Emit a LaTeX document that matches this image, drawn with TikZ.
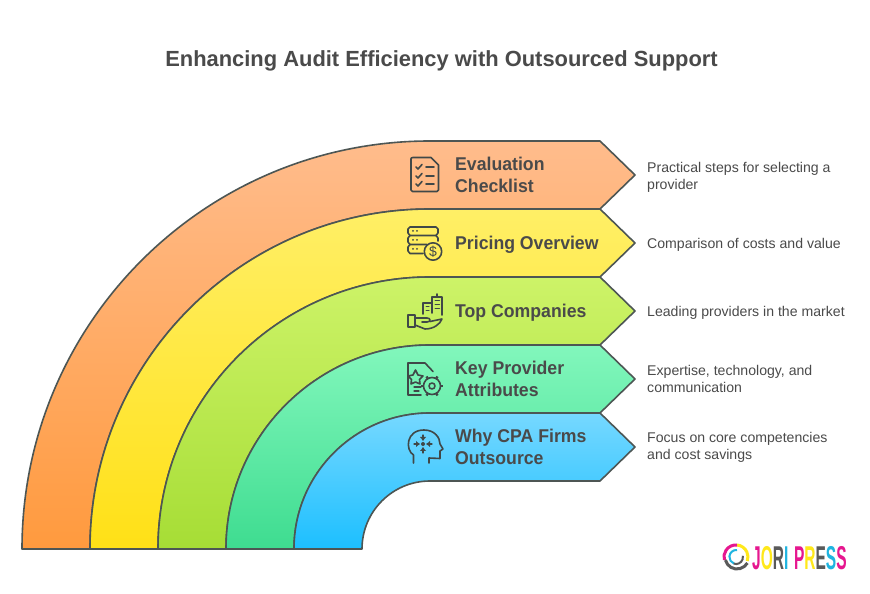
\documentclass[tikz,border=0pt]{standalone}
\usepackage{fontspec}
\setmainfont{Liberation Sans}
\newfontfamily\headfont[FakeStretch=0.955]{Liberation Sans}
\usetikzlibrary{calc}
\definecolor{ink}{HTML}{4A4A4A}
\definecolor{edge}{HTML}{4D5654}
\definecolor{iconink}{HTML}{404848}
\definecolor{logoM}{HTML}{E6178F}
\definecolor{logoY}{HTML}{FFE81A}
\definecolor{logoC}{HTML}{1FB4E0}
\definecolor{logoG}{HTML}{5A5A5A}
\definecolor{o1}{HTML}{FFBC8C}\definecolor{o2}{HTML}{FF9A3E}
\definecolor{y1}{HTML}{FFEF66}\definecolor{y2}{HTML}{FFE016}
\definecolor{g1}{HTML}{CDF368}\definecolor{g2}{HTML}{A6DD35}
\definecolor{t1}{HTML}{82F7BC}\definecolor{t2}{HTML}{3EDC90}
\definecolor{b1}{HTML}{76D8FF}\definecolor{b2}{HTML}{1CBFFF}
\tikzset{
  x=1pt,y=1pt,
  band/.style={draw=edge,line width=1.6pt,line join=round},
  title/.style={font=\fontsize{21.9}{26}\selectfont\bfseries,text=ink,inner sep=0pt},
  head/.style={font=\headfont\fontsize{18.5}{22.5}\selectfont\bfseries,text=ink,align=left,anchor=west,inner sep=0pt},
  desc/.style={font=\fontsize{14.1}{17}\selectfont,text=ink,align=left,anchor=west,inner sep=0pt},
  icon/.style={draw=iconink,line width=1.6pt,line cap=round,line join=round},
  logotext/.style={font=\fontsize{33}{33}\selectfont\bfseries,inner sep=0pt,anchor=west},
}
\newcommand{\arcband}[3]{% index, top colour, bottom colour
  \pgfmathsetmacro{\ro}{408-68*#1}
  \pgfmathsetmacro{\ri}{\ro-68}
  \pgfmathsetmacro{\yt}{45+\ro}
  \pgfmathsetmacro{\yb}{45+\ri}
  \pgfmathsetmacro{\ym}{(\yt+\yb)/2}
  \path[band,top color=#2,bottom color=#3]
    (430-\ro,45) arc[start angle=180,end angle=90,radius=\ro]
    -- (600,\yt) -- (635,\ym) -- (600,\yb) -- (430,\yb)
    arc[start angle=90,end angle=180,radius=\ri] -- cycle;
}
\begin{document}
\begin{tikzpicture}
\useasboundingbox (0,0) rectangle (870,594);
\fill[white] (0,0) rectangle (870,594);
\node[title] (t) at (441.5,533) {Enhancing Audit Efficiency with Outsourced Support};
\arcband{0}{o1}{o2}
\arcband{1}{y1}{y2}
\arcband{2}{g1}{g2}
\arcband{3}{t1}{t2}
\arcband{4}{b1}{b2}
% headings
\node[head] (h1) at (455,419) {Evaluation\\Checklist};
\node[head] (h2) at (455,349.5) {Pricing Overview};
\node[head] (h3) at (455,281.5) {Top Companies};
\node[head] (h4) at (455,215) {Key Provider\\Attributes};
\node[head] (h5) at (455,147) {Why CPA Firms\\Outsource};
% descriptions
\node[desc] (d1) at (647,416.5) {Practical steps for selecting a\\provider};
\node[desc] (d2) at (647,349) {Comparison of costs and value};
\node[desc] (d3) at (647,281) {Leading providers in the market};
\node[desc] (d4) at (647,215) {Expertise, technology, and\\communication};
\node[desc] (d5) at (647,147) {Focus on core competencies\\and cost savings};
% checklist icon
\draw[icon] (413,436.5) -- (431,436.5) -- (438.5,429) -- (438.5,404) .. controls (438.5,403) .. (437,402.5) -- (412.5,402.5) .. controls (411,403) .. (411,404) -- (411,435) .. controls (411,436) .. (413,436.5);
\foreach \yy in {427,418,410}{
  \draw[icon] (416,\yy) -- (418,\yy-2) -- (422,\yy+2.5);
  \draw[icon] (426,\yy) -- (434,\yy);
}
% pricing icon
\draw[icon] (410,367) -- (436,367) -- (438,365) -- (438,361) -- (436,358.5) -- (410,358.5) -- (408,361) -- (408,365) -- cycle;
\draw[icon] (410,358.5) -- (408,356) -- (408,352) -- (410,349.5) -- (427,349.5);
\draw[icon] (436,358.5) -- (438,356) -- (438,353);
\draw[icon] (410,349.5) -- (408,347) -- (408,343) -- (410,340.5) -- (423,340.5);
\foreach \yy/\xx in {363/413,363/417,354/413,354/417,345/413,345/417}{\fill[iconink] (\xx,\yy) circle[radius=1];}
\draw[icon] (433,342.5) circle[radius=8.7];
\node[font=\fontsize{14}{14}\selectfont,text=iconink,inner sep=0pt] (dollar) at (433,342.5) {\$};
% companies icon
\draw[icon] (408,267) rectangle (415,279);
\draw[icon] (415,276) -- (427,276) .. controls (431,276) and (431,272) .. (427,272) -- (422,272);
\draw[icon] (430,272.5) -- (442,275) .. controls (440,270) and (434,265) .. (425,265) -- (415,269);
\draw[icon] (423,280) -- (423,291) -- (432,291);
\draw[icon] (432,281) -- (432,297) -- (442,297) -- (442,279);
\draw[icon] (437,297) -- (437,300);
\foreach \yy in {293,289,285}{\draw[icon,line width=1pt] (435,\yy) -- (439.5,\yy);}
\draw[icon,line width=1pt] (426,287) -- (429,287) (426,283.5) -- (429,283.5);
% attributes icon
\draw[icon] (412,231) -- (425,231) -- (433,222.5);
\draw[icon] (412,231) -- (408,231) -- (408,199) -- (421,199);
\draw[icon] (415.5,224) -- (418,219) -- (423,218) -- (419.5,214.5) -- (420,210) -- (415.5,212) -- (411,210) -- (411.5,214.5) -- (408,218) -- (413,219) -- cycle;
\draw[icon,line width=1.2pt] (414,207) -- (421,207) (414,203) -- (419,203);
\draw[icon] (432,208) circle[radius=3];
\draw[icon] (432,208) circle[radius=8.5];
\foreach \aa in {0,60,...,300}{\draw[icon,line width=2.4pt,line cap=butt] ($(432,208)+(\aa:8)$) -- ($(432,208)+(\aa:11)$);}
% head icon
\draw[icon] (413.5,131) -- (413.5,139) .. controls (405,144) and (406,164) .. (424,164) .. controls (435,164) and (440,156) .. (440,150) -- (443,145) -- (440,143) -- (440,135.5) -- (429,136) -- (429,131);
\fill[iconink] (423,150) circle[radius=2];
\foreach \aa in {0,90,180,270}{
  \draw[icon,line width=1.2pt] ($(423,150)+(\aa:4)$) -- ($(423,150)+(\aa:9)$);
  \fill[iconink] ($(423,150)+(\aa:7)+(\aa+90:3)$) -- ($(423,150)+(\aa:7)+(\aa-90:3)$) -- ($(423,150)+(\aa:3.5)$) -- cycle;
}
% logo
\draw[logoY,line width=3pt] (737,49) arc[start angle=85,end angle=-20,radius=12];
\draw[logoM,line width=3pt] (737,49) arc[start angle=85,end angle=195,radius=12];
\draw[logoG,line width=3pt] (725.4,33.9) arc[start angle=195,end angle=330,radius=12];
\draw[logoC,line width=2pt] (737,44) arc[start angle=85,end angle=250,radius=7];
\draw[logoG,line width=2pt] (733.6,30.4) arc[start angle=250,end angle=370,radius=7];
\node[logotext] (lg) at (752,36) {\scalebox{.47}[1]{\textcolor{logoM}{J}\textcolor{logoY}{O}\textcolor{logoG}{R}\textcolor{logoC}{I}\hspace{12pt}\textcolor{logoM}{P}\textcolor{logoY}{R}\textcolor{logoG}{E}\textcolor{logoC}{S}\textcolor{logoM}{S}}};
\end{tikzpicture}
\end{document}
